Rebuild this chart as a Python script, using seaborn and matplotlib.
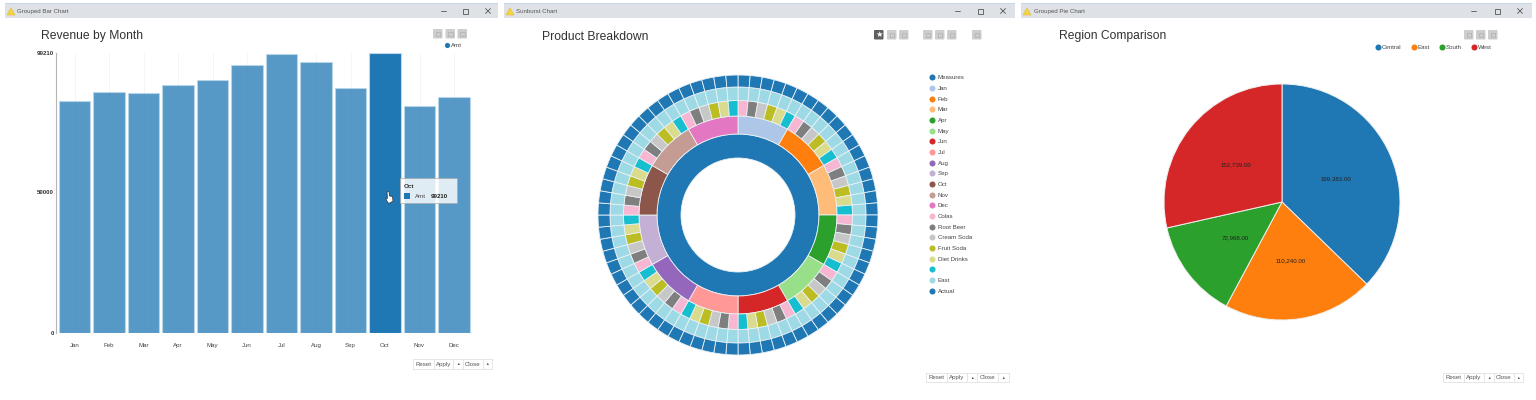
#!/usr/bin/env python3
"""Tres ventanas con graficos: barras, sunburst y tarta"""

import pandas as pd
import matplotlib.pyplot as plt
import seaborn as sns
from matplotlib.patches import Rectangle, FancyBboxPatch, Polygon

W, H = 1536, 400

months = ['Jan', 'Feb', 'Mar', 'Apr', 'May', 'Jun', 'Jul', 'Aug', 'Sep', 'Oct', 'Nov', 'Dec']
amt = [82200, 85400, 85200, 87900, 89800, 95100, 98700, 96000, 86800, 99210, 80300, 83600]
y_ticks = [0, 50000, 99210]

products = ['Colas', 'Root Beer', 'Cream Soda', 'Fruit Soda', 'Diet Drinks', '']
sun_legend = ['Measures'] + months + products + ['East', 'Actual']
month_shares = [1] * 12
product_shares = [1] * 6

regions = ['Central', 'East', 'South', 'West']
region_values = [199383, 110240, 72968, 152739]

sns.set_theme(style='white')
plt.rcParams['font.family'] = ['Liberation Sans', 'DejaVu Sans']

tab20 = sns.color_palette('tab20')
tab10 = sns.color_palette('tab10')
BLUE = tab20[0]
TXT = '#444444'
MID = 'center_baseline'


def px_axes(fig, x0, y0, x1, y1, **kw):
    """Crea un eje a partir de coordenadas en pixeles (origen arriba)"""
    return fig.add_axes([x0 / W, 1 - y1 / H, (x1 - x0) / W, (y1 - y0) / H], **kw)


fig = plt.figure(figsize=(W / 100, H / 100), dpi=100, facecolor='white')

# Capa de pixeles para la parte de ventana
ui = px_axes(fig, 0, 0, W, H, zorder=10)
ui.set_xlim(0, W)
ui.set_ylim(H, 0)
ui.axis('off')
ui.patch.set_alpha(0)


def draw_window(x0, x1, name, tx, controls):
    ui.add_patch(Rectangle((x0, 3), x1 - x0, 15, fc='#dee1e6', ec='none'))
    ui.add_patch(Rectangle((x0, 3), x1 - x0, 1, fc='#c3d6ea', ec='none'))
    ui.add_patch(Polygon([(x0 + 2, 15), (x0 + 6, 8), (x0 + 10, 15)], fc='#f5d63d', ec='#e0b93a', lw=0.4))
    ui.text(tx, 11, name, fontsize=4.4, color='#555555', va=MID)
    a, b, c = controls
    ui.plot([a - 2.5, a + 2.5], [11, 11], color='#555555', lw=0.6)
    ui.add_patch(Rectangle((b - 2.5, 8.5), 5, 5, fc='none', ec='#555555', lw=0.6))
    ui.plot([c - 2.5, c + 2.5], [8.5, 13.5], color='#555555', lw=0.6)
    ui.plot([c - 2.5, c + 2.5], [13.5, 8.5], color='#555555', lw=0.6)


def draw_icon(x, y, size=9.5, dark=False):
    fc = '#5f5f5f' if dark else '#cdcdcd'
    ui.add_patch(FancyBboxPatch((x + 1, y + 1), size - 2, size - 2, boxstyle='round,pad=1',
                                fc=fc, ec='none'))
    if dark:
        ui.text(x + size / 2, y + size / 2, '★', color='white', fontsize=6, ha='center',
                va='center', family=['DejaVu Sans'])
    else:
        ui.add_patch(Rectangle((x + 2.5, y + 2.5), size - 5, size - 5, fc='none', ec='#b0b0b0', lw=0.5))


def draw_buttons(x0, y0, seps):
    x1, labels = seps[-1], ['Reset', 'Apply', '▲', 'Close', '▲']
    ui.add_patch(Rectangle((x0, y0), x1 - x0, 9.5, fc='white', ec='#e2e2e2', lw=0.6))
    edges = [x0] + seps
    for i, lab in enumerate(labels):
        if i:
            ui.plot([edges[i], edges[i]], [y0, y0 + 9.5], color='#e2e2e2', lw=0.6)
        size = 2.6 if lab == '▲' else 4.4
        ui.text((edges[i] + edges[i + 1]) / 2, y0 + 4.8, lab, fontsize=size, color='#555555',
                ha='center', va=MID, family=['Liberation Sans', 'DejaVu Sans'])


draw_window(5, 498, 'Grouped Bar Chart', 17, (443, 465, 488))
draw_window(504, 1015, 'Sunburst Chart', 516, (957, 980, 1003))
draw_window(1021, 1532, 'Grouped Pie Chart', 1034, (1473, 1497, 1520))

ui.text(41, 34, 'Revenue by Month', fontsize=8.7, color='#333333', va=MID)
ui.text(542, 35, 'Product Breakdown', fontsize=8.7, color='#333333', va=MID)
ui.text(1059, 35, 'Region Comparison', fontsize=8.7, color='#333333', va=MID)

for x in [433, 445.5, 457.5]:
    draw_icon(x, 29)
draw_icon(874, 30, dark=True)
for x in [887, 899, 923, 935, 947, 972]:
    draw_icon(x, 30)
for x in [1464, 1476, 1488]:
    draw_icon(x, 30)

draw_buttons(413, 359, [434, 453, 463, 483, 492])
draw_buttons(926, 372.5, [947, 967, 977, 998, 1009])
draw_buttons(1443, 372.5, [1464, 1484, 1494, 1514, 1523])

# Barras
bar_x0, bar_x1, pitch, first_center = 55.5, 472, 34.5, 74.5
ax = px_axes(fig, bar_x0, 53, bar_x1, 333)
df = pd.DataFrame({'month': months, 'amt': amt})
sns.barplot(data=df, x='month', y='amt', ax=ax, color=BLUE, saturation=1, width=0.9,
            edgecolor='#bcd8ec', linewidth=0.8, zorder=2)
for patch, m in zip(ax.patches, months):
    patch.set_alpha(1 if m == 'Oct' else 0.75)
ax.set_xlim((bar_x0 - first_center) / pitch, (bar_x1 - first_center) / pitch)
ax.set_ylim(0, max(amt))
ax.set_yticks(y_ticks)
ax.set_yticklabels([str(v) for v in y_ticks], fontsize=4.4, fontweight='bold', color='#333333')
ax.set_xlabel('')
ax.set_ylabel('')
ax.tick_params(axis='x', labelsize=4.4, labelcolor=TXT, length=0, pad=7)
ax.tick_params(axis='y', length=0, pad=1)
ax.grid(axis='x', color='#f1f1f1', lw=0.5, zorder=0)
ax.set_axisbelow(True)
sns.despine(ax=ax, top=True, right=True, bottom=True)
ax.spines['left'].set_color('#b5b5b5')
ax.spines['left'].set_linewidth(0.8)

ui.scatter([447], [45], s=14, color=BLUE, lw=0)
ui.text(451, 45, 'Amt', fontsize=4.4, color=TXT, va=MID)

# Tooltip y cursor
ui.add_patch(Rectangle((400, 178), 57, 25, fc='white', alpha=0.82, ec='#a9a9a9', lw=0.6))
ui.text(403.5, 186, months[9], fontsize=4.6, color='#333333', fontweight='bold', va=MID)
ui.add_patch(Rectangle((404, 192.5), 6, 6, fc=BLUE, ec='none'))
ui.text(415, 195.5, 'Amt', fontsize=4.4, color=TXT, va=MID)
ui.text(431, 195.5, str(amt[9]), fontsize=4.4, color='#222222', fontweight='bold', va=MID)
ui.add_patch(Polygon([(387, 192), (389, 191.5), (389.5, 196), (392.5, 196.5), (393, 201),
                      (390, 203), (388, 203), (385.5, 198), (387.5, 198.5)],
                     fc='white', ec='#333333', lw=0.5))

# Sunburst: anillos de dentro hacia fuera
R = 140
sun = px_axes(fig, 738 - R, 215 - R, 738 + R, 215 + R)


def ring(values, colors, r_in, r_out):
    sun.pie(values, colors=colors, radius=r_out / R, startangle=90, counterclock=False,
            wedgeprops=dict(width=(r_out - r_in) / R, edgecolor='#e9f1f5', linewidth=0.6))


month_colors = tab20[1:13]
product_colors = tab20[13:19]
ring([1], [BLUE], 57, 81)
ring(month_shares, month_colors, 81, 99)
ring(product_shares * 12, product_colors * 12, 99, 114.5)
ring(product_shares * 12, [tab20[19]] * 72, 114.5, 128)
ring(product_shares * 12, [BLUE] * 72, 128, 140)
sun.set_xlim(-1, 1)
sun.set_ylim(-1, 1)

legend_colors = tab20 + [BLUE]
for i, (lab, col) in enumerate(zip(sun_legend, legend_colors)):
    y = 77.3 + i * 10.67
    ui.scatter([932], [y], s=19, color=col, lw=0)
    ui.text(937.7, y, lab, fontsize=4.4, color=TXT, va=MID)

# Tarta
R2 = 118
pie = px_axes(fig, 1282 - R2, 202 - R2, 1282 + R2, 202 + R2)
total = sum(region_values)
pie.pie(region_values, colors=tab10[:4], radius=1, startangle=90, counterclock=False,
        autopct=lambda p: f'{round(p * total / 100):,.2f}', pctdistance=0.5,
        textprops=dict(fontsize=4.4, color='#222222'),
        wedgeprops=dict(edgecolor='#eeeeee', linewidth=0.7))
pie.set_xlim(-1, 1)
pie.set_ylim(-1, 1)

for dot, lab, col in zip([1378, 1414, 1442, 1474], regions, tab10):
    ui.scatter([dot], [47], s=19, color=col, lw=0)
    ui.text(dot + 4, 47, lab, fontsize=4.4, color=TXT, va=MID)

fig.savefig('out.png', dpi=100, facecolor='white')
